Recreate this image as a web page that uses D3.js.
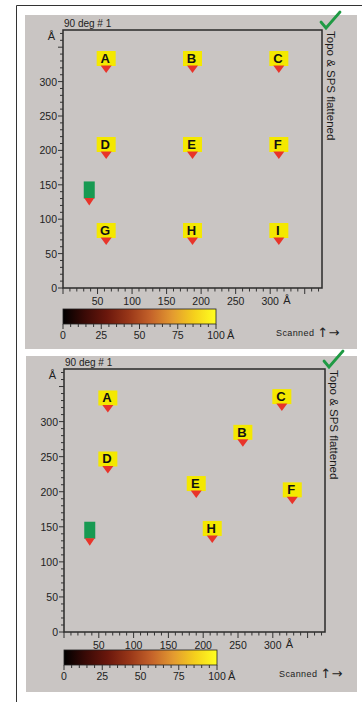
<!DOCTYPE html>
<html>
<head>
<meta charset="utf-8">
<script src="https://cdn.jsdelivr.net/npm/d3@7"></script>
<style>
  body { margin: 0; background: #fff; }
  svg { display: block; font-family: "Liberation Sans", Arial, sans-serif; }
</style>
</head>
<body>
<div id="graphic"></div>
<script>
// marker data, in Å
const topLabels = ["A", "B", "C", "D", "E", "F", "G", "H", "I"];
const topX = [62.5, 187.5, 312.5, 62.5, 187.5, 312.5, 62.5, 187.5, 312.5];
const topY = [312.5, 312.5, 312.5, 187.5, 187.5, 187.5, 62.5, 62.5, 62.5];
const topTip = [38, 120];

const botLabels = ["A", "B", "C", "D", "E", "F", "H"];
const botX = [63, 257, 313, 63, 190, 328, 213];
const botY = [313, 264, 315, 226, 191, 182, 127];
const botTip = [37, 123];

const axisTicks = [0, 50, 100, 150, 200, 250, 300];
const colorTicks = [0, 25, 50, 75, 100];
const colorStops = ["#000000", "#3a0a06", "#6a170c", "#983618", "#c4622a", "#e39a30", "#f5d01c", "#ffff20"];

const W = 362, H = 702;

const svg = d3.select("#graphic").append("svg")
  .attr("width", W)
  .attr("height", H);

// gradient for the height colour bar
const grad = svg.append("defs").append("linearGradient")
  .attr("id", "heat")
  .attr("x1", "0%").attr("x2", "100%").attr("y1", "0%").attr("y2", "0%");
grad.selectAll("stop")
  .data(colorStops)
  .enter().append("stop")
  .attr("offset", (d, i) => (i / (colorStops.length - 1) * 100) + "%")
  .attr("stop-color", d => d);

// outer frame
svg.append("path")
  .attr("d", "M16.5," + H + "V5.5H" + W)
  .attr("fill", "none")
  .attr("stroke", "#333")
  .attr("stroke-width", 1);

function drawPanel(p, labels, xs, ys, tip) {
  const g = svg.append("g");

  g.append("rect")
    .attr("x", p.px).attr("y", p.py)
    .attr("width", p.pw).attr("height", p.ph)
    .attr("fill", "#c9c5c3");

  const x = d3.scaleLinear().domain([0, 375]).range([p.left, p.right]);
  const y = d3.scaleLinear().domain([0, 375]).range([p.bottom, p.top]);

  // plot frame
  g.append("rect")
    .attr("x", p.left).attr("y", p.top)
    .attr("width", p.right - p.left).attr("height", p.bottom - p.top)
    .attr("fill", "none")
    .attr("stroke", "#2a2a2a")
    .attr("stroke-width", 1.5);

  const minor = d3.range(0, 371, 10);

  // x axis
  const xa = g.append("g").attr("transform", "translate(0," + p.bottom + ")");
  xa.selectAll("line")
    .data(minor)
    .enter().append("line")
    .attr("x1", d => x(d)).attr("x2", d => x(d))
    .attr("y1", 0).attr("y2", d => d % 50 === 0 ? 6 : 3.5)
    .attr("stroke", "#333").attr("stroke-width", 1);
  xa.selectAll("text")
    .data(axisTicks.filter(d => d > 0))
    .enter().append("text")
    .attr("x", d => x(d)).attr("y", 17)
    .attr("text-anchor", "middle")
    .attr("font-size", 10.5)
    .attr("fill", "#222")
    .text(d => d);
  xa.append("text")
    .attr("x", x(300) + 13).attr("y", 16)
    .attr("font-size", 11)
    .attr("fill", "#222")
    .text("Å");

  // y axis
  const ya = g.append("g").attr("transform", "translate(" + p.left + ",0)");
  ya.selectAll("line")
    .data(minor)
    .enter().append("line")
    .attr("y1", d => y(d)).attr("y2", d => y(d))
    .attr("x1", 0).attr("x2", d => d % 50 === 0 ? -5 : -3)
    .attr("stroke", "#333").attr("stroke-width", 1);
  ya.selectAll("text")
    .data(axisTicks)
    .enter().append("text")
    .attr("x", -6).attr("y", d => y(d) + 4)
    .attr("text-anchor", "end")
    .attr("font-size", 10.5)
    .attr("fill", "#222")
    .text(d => d);
  ya.append("text")
    .attr("x", -8).attr("y", y(365) + 3)
    .attr("text-anchor", "end")
    .attr("font-size", 11)
    .attr("fill", "#222")
    .text("Å");

  g.append("text")
    .attr("x", p.left + 1).attr("y", p.top - 3.5)
    .attr("font-size", 10)
    .attr("fill", "#222")
    .text("90 deg # 1");

  // right side title
  g.append("text")
    .attr("transform", "translate(" + (p.right + 4.5) + "," + (p.top + 1) + ") rotate(90)")
    .attr("font-size", 11.5)
    .attr("fill", "#1a1a1a")
    .text("Topo & SPS flattened");

  // green check mark
  g.append("path")
    .attr("d", "M" + (p.right - 1) + "," + (p.top - 8) + "l5,6l14,-16")
    .attr("fill", "none")
    .attr("stroke", "#1f9a44")
    .attr("stroke-width", 2.8)
    .attr("stroke-linecap", "round");

  // labelled markers: yellow tag above a red pointer
  const m = g.selectAll(".marker")
    .data(labels.map((l, i) => ({ l: l, x: xs[i], y: ys[i] })))
    .enter().append("g")
    .attr("class", "marker")
    .attr("transform", d => "translate(" + x(d.x) + "," + y(d.y) + ")");
  m.append("rect")
    .attr("x", -9.5).attr("y", -22)
    .attr("width", 19).attr("height", 15)
    .attr("fill", "#f4e800");
  m.append("path")
    .attr("d", "M-5.5,-7.5H5.5L0,0Z")
    .attr("fill", "#e8342a");
  m.append("text")
    .attr("x", -1).attr("y", -10)
    .attr("text-anchor", "middle")
    .attr("font-size", 13)
    .attr("font-weight", "bold")
    .attr("fill", "#111")
    .text(d => d.l);

  // tip marker (green)
  const t = g.append("g")
    .attr("transform", "translate(" + x(tip[0]) + "," + y(tip[1]) + ")");
  t.append("rect")
    .attr("x", -5.5).attr("y", -24)
    .attr("width", 11).attr("height", 17)
    .attr("fill", "#179a52");
  t.append("path")
    .attr("d", "M-5,-7.5H5L0,0Z")
    .attr("fill", "#e8342a");

  // colour bar
  const c = d3.scaleLinear().domain([0, 100]).range([p.left, p.left + 153]);
  const cb = g.append("g");
  cb.append("rect")
    .attr("x", c(0)).attr("y", p.cbTop)
    .attr("width", c(100) - c(0)).attr("height", 15)
    .attr("fill", "url(#heat)")
    .attr("stroke", "#222").attr("stroke-width", 0.8);
  cb.selectAll("line")
    .data(d3.range(0, 101, 5))
    .enter().append("line")
    .attr("x1", d => c(d)).attr("x2", d => c(d))
    .attr("y1", p.cbTop + 15).attr("y2", d => p.cbTop + 15 + (d % 25 === 0 ? 5 : 3))
    .attr("stroke", "#333");
  cb.selectAll("text")
    .data(colorTicks)
    .enter().append("text")
    .attr("x", d => c(d)).attr("y", p.cbTop + 30)
    .attr("text-anchor", "middle")
    .attr("font-size", 10.5)
    .attr("fill", "#222")
    .text(d => d);
  cb.append("text")
    .attr("x", c(100) + 11).attr("y", p.cbTop + 30)
    .attr("font-size", 11)
    .attr("fill", "#222")
    .text("Å");

  const s = g.append("text")
    .attr("x", p.right - 46).attr("y", p.cbTop + 27)
    .attr("font-size", 9)
    .attr("letter-spacing", 0.4)
    .attr("fill", "#222");
  s.append("tspan").text("Scanned ");
  s.append("tspan").attr("font-family", "DejaVu Sans").attr("font-size", 13).attr("dy", 1).text("↑");
  s.append("tspan").attr("font-family", "DejaVu Sans").attr("font-size", 13).text("→");
}

drawPanel({ px: 25, py: 15, pw: 332, ph: 334, left: 63, top: 30, right: 322, bottom: 288, cbTop: 309 },
  topLabels, topX, topY, topTip);
drawPanel({ px: 26, py: 356, pw: 331, ph: 336, left: 64, top: 369, right: 325, bottom: 632, cbTop: 650 },
  botLabels, botX, botY, botTip);
</script>
</body>
</html>
